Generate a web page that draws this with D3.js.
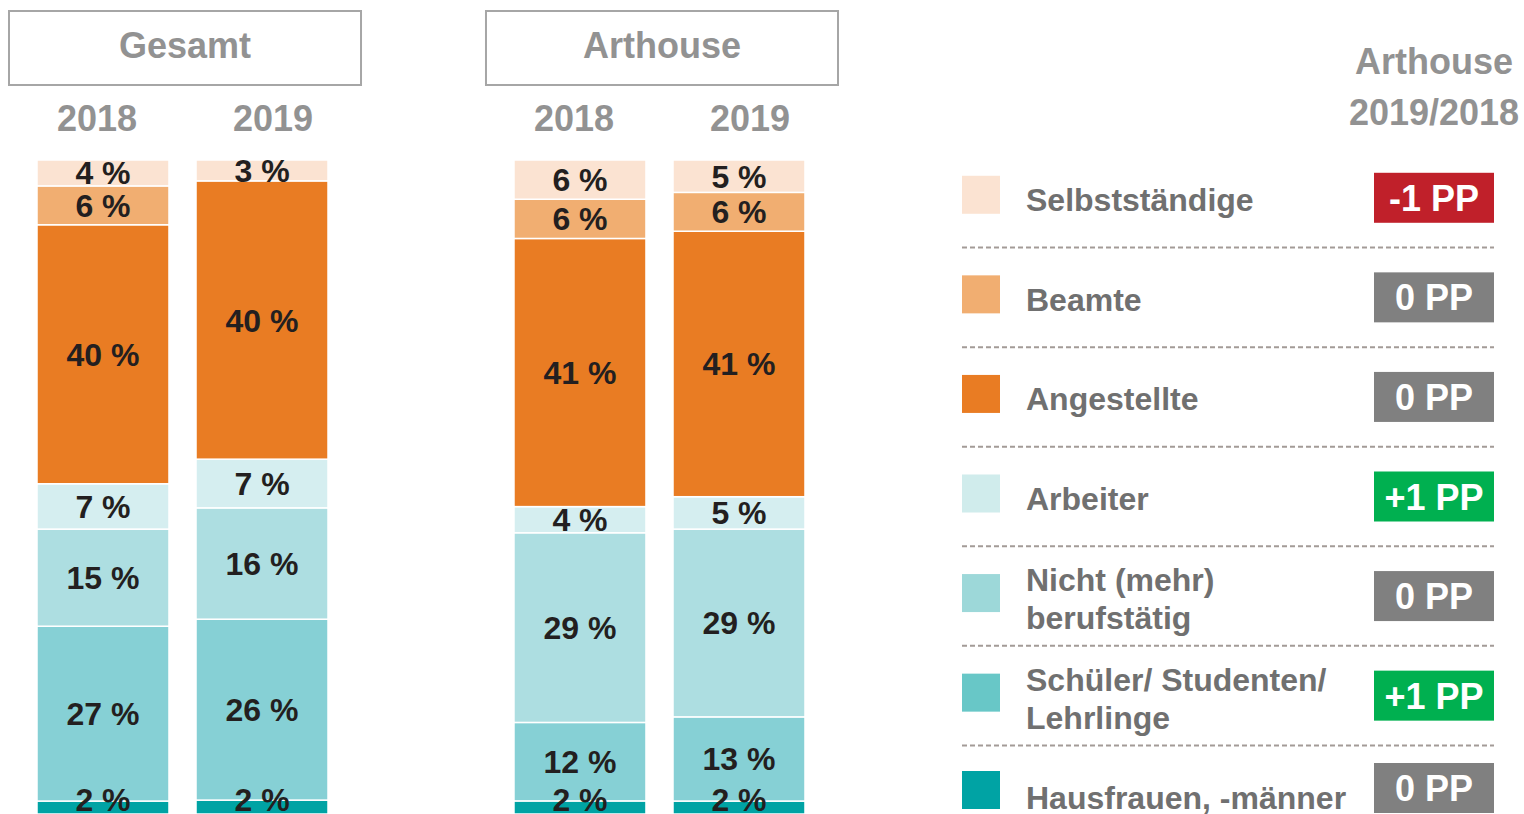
<!DOCTYPE html>
<html>
<head>
<meta charset="utf-8">
<script src="https://cdn.jsdelivr.net/npm/d3@7"></script>
<style>
body { margin:0; background:#fff; }
svg { display:block; font-family:"Liberation Sans", Arial, sans-serif; font-weight:bold; }
</style>
</head>
<body>
<svg id="chart" width="1524" height="814"></svg>
<script>
// categories, top to bottom like the legend
var categories = ["Selbstständige", "Beamte", "Angestellte", "Arbeiter", "Nicht (mehr) berufstätig", "Schüler/ Studenten/ Lehrlinge", "Hausfrauen, -männer"];
var legendLines = [["Selbstständige"], ["Beamte"], ["Angestellte"], ["Arbeiter"], ["Nicht (mehr)", "berufstätig"], ["Schüler/ Studenten/", "Lehrlinge"], ["Hausfrauen, -männer"]];
var panels = ["Gesamt", "Arthouse"];
var years = ["2018", "2019"];
var gesamt2018 = [4, 6, 40, 7, 15, 27, 2];
var gesamt2019 = [3, null, 40, 7, 16, 26, 2];   // no Beamte value in 2019
var arthouse2018 = [6, 6, 41, 4, 29, 12, 2];
var arthouse2019 = [5, 6, 41, 5, 29, 13, 2];
var changePP = [-1, 0, 0, 1, 0, 1, 0];

var barColors = ["#fbe3d2", "#f1ae71", "#e97c23", "#d5eef0", "#addee1", "#86d0d5", "#00a3a4"];
var legendColors = ["#fbe3d2", "#f1ae71", "#e97c23", "#d0ecec", "#9dd8d9", "#68c7c7", "#00a3a4"];

var svg = d3.select("#chart");
var grey = "#929292";

var bars = [
    {panel:"Gesamt", year:"2018", v:gesamt2018},
    {panel:"Gesamt", year:"2019", v:gesamt2019},
    {panel:"Arthouse", year:"2018", v:arthouse2018},
    {panel:"Arthouse", year:"2019", v:arthouse2019}
];

var xPanel = d3.scaleBand().domain(panels).range([9, 838]).paddingInner(0.262);
var xYear = d3.scaleBand().domain(years).range([28, 319]).paddingInner(0.17);
var xYearLabel = d3.scalePoint().domain(years).range([0, xPanel.bandwidth()]).padding(0.5);

var barTop = 160, barBottom = 814;
bars.forEach(function(b){
    b.y = d3.scaleLinear().domain([0, d3.sum(b.v)]).range([barBottom, barTop]);
    b.x = xPanel(b.panel) + xYear(b.year);
});

// panel boxes + year labels
panels.forEach(function(p){
    var x0 = xPanel(p);
    svg.append("rect").attr("x", x0).attr("y", 11).attr("width", xPanel.bandwidth()).attr("height", 74)
        .attr("fill", "none").attr("stroke", "#a6a6a6").attr("stroke-width", 2);
    svg.append("text").attr("x", x0 + xPanel.bandwidth()/2).attr("y", 58).attr("text-anchor", "middle")
        .attr("font-size", 36).attr("fill", grey).text(p);
    years.forEach(function(yr){
        svg.append("text").attr("x", x0 + xYearLabel(yr)).attr("y", 131).attr("text-anchor", "middle")
            .attr("font-size", 36).attr("fill", grey).text(yr);
    });
});

// stacked bars
var stackKeys = categories.slice().reverse();
var series = d3.stack().keys(stackKeys)
    .value(function(d, k){ return d.v[categories.indexOf(k)] || 0; })(bars);

var segs = [];
series.forEach(function(s){
    var ci = categories.indexOf(s.key);
    s.forEach(function(p, i){
        if (bars[i].v[ci]) segs.push({ci:ci, bar:bars[i], y0:p[0], y1:p[1], v:bars[i].v[ci]});
    });
});

svg.append("g").selectAll("rect").data(segs).enter().append("rect")
    .attr("x", function(d){ return d.bar.x; })
    .attr("y", function(d){ return d.bar.y(d.y1); })
    .attr("width", xYear.bandwidth())
    .attr("height", function(d){ return d.bar.y(d.y0) - d.bar.y(d.y1); })
    .attr("fill", function(d){ return barColors[d.ci]; })
    .attr("stroke", "#fff").attr("stroke-width", 1.5);

svg.append("g").selectAll("text").data(segs).enter().append("text")
    .attr("x", function(d){ return d.bar.x + xYear.bandwidth()/2; })
    .attr("y", function(d){ return Math.min((d.bar.y(d.y0) + d.bar.y(d.y1))/2 + 11.5, 811); })
    .attr("text-anchor", "middle").attr("font-size", 32).attr("fill", "#231f20")
    .text(function(d){ return d.v + " %"; });

// legend header
svg.append("text").attr("x", 1434).attr("y", 74).attr("text-anchor", "middle")
    .attr("font-size", 36).attr("fill", grey).text("Arthouse");
svg.append("text").attr("x", 1434).attr("y", 125).attr("text-anchor", "middle")
    .attr("font-size", 36).attr("fill", grey).text("2019/2018");

// legend rows
var yRow = d3.scaleBand().domain(categories).range([148, 845]);
var lg = svg.append("g");
categories.forEach(function(c, i){
    var rc = yRow(c) + yRow.bandwidth()/2;
    if (i > 0) {
        lg.append("line").attr("x1", 962).attr("x2", 1494).attr("y1", yRow(c)).attr("y2", yRow(c))
            .attr("stroke", "#a39b97").attr("stroke-width", 2).attr("stroke-dasharray", "5,3");
    }
    lg.append("rect").attr("x", 962).attr("y", Math.min(rc - 22, 771)).attr("width", 38).attr("height", 38)
        .attr("fill", legendColors[i]);
    var lines = legendLines[i];
    lines.forEach(function(t, j){
        var by = lines.length == 1 ? rc + 13.5 : (j == 0 ? rc - 5 : rc + 33);
        lg.append("text").attr("x", 1026).attr("y", by).attr("font-size", 32).attr("fill", "#707070").text(t);
    });
    var v = changePP[i];
    var by0 = Math.min(rc - 25, 763);
    lg.append("rect").attr("x", 1374).attr("y", by0).attr("width", 120).attr("height", 50)
        .attr("fill", v < 0 ? "#c0202a" : (v > 0 ? "#00b050" : "#808080"));
    lg.append("text").attr("x", 1434).attr("y", by0 + 38).attr("text-anchor", "middle")
        .attr("font-size", 36).attr("fill", "#fff")
        .text((v > 0 ? "+" : "") + v + " PP");
});
</script>
</body>
</html>
